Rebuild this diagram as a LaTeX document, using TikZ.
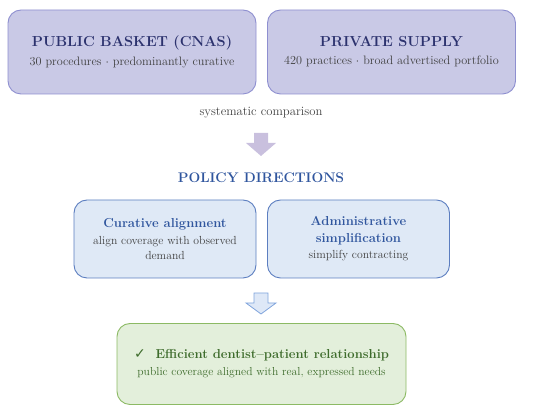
\documentclass[tikz,border=0pt]{standalone}
\usepackage{fontspec}
\newfontfamily\symbfont{DejaVu Sans}
\newlength{\du}
\setlength{\du}{1pt}
\definecolor{basketfill}{RGB}{201,201,230}
\definecolor{basketline}{RGB}{142,143,208}
\definecolor{baskettext}{RGB}{44,50,110}
\definecolor{policyfill}{RGB}{223,233,246}
\definecolor{policyline}{RGB}{92,126,192}
\definecolor{policytext}{RGB}{48,86,158}
\definecolor{goalfill}{RGB}{227,239,219}
\definecolor{goalline}{RGB}{140,186,100}
\definecolor{goaltext}{RGB}{62,108,44}
\definecolor{subtext}{RGB}{64,64,64}
\definecolor{arrowfill}{RGB}{201,192,222}
\definecolor{arrowtwofill}{RGB}{222,232,247}
\definecolor{arrowtwoline}{RGB}{128,164,220}

\begin{document}
\begin{tikzpicture}[
  basket/.style={draw=basketline, fill=basketfill, line width=0.9\du, rounded corners=13\du,
    minimum width=248\du, minimum height=84\du, align=center, inner sep=0pt},
  policy/.style={draw=policyline, fill=policyfill, line width=0.9\du, rounded corners=13\du,
    minimum width=182\du, minimum height=78\du, align=center, inner sep=0pt},
  goal/.style={draw=goalline, fill=goalfill, line width=0.9\du, rounded corners=13\du,
    minimum width=289\du, minimum height=81\du, align=center, inner sep=0pt}
]
\pgftransformxscale{1.000000}
\pgftransformyscale{-1.000000}
\useasboundingbox (0\du,0\du) rectangle (550\du,411\du);
% top row
\node[basket] (public) at (132\du,52\du){%
  \fontsize{14.5}{17}\selectfont\bfseries\color{baskettext}PUBLIC BASKET (CNAS)\\[6\du]
  \fontsize{12.2}{14}\selectfont\mdseries\color{subtext}30 procedures $\cdot$ predominantly curative};
\node[basket] (private) at (391.5\du,52\du){%
  \fontsize{14.5}{17}\selectfont\bfseries\color{baskettext}PRIVATE SUPPLY\\[6\du]
  \fontsize{12.2}{14}\selectfont\mdseries\color{subtext}420 practices $\cdot$ broad advertised portfolio};
% setfont left to latex
\node[text=subtext, font=\fontsize{12.7}{14}\selectfont] (compare) at (261\du,113\du){systematic comparison};
% first arrow
\fill[arrowfill] (254\du,133\du)--(268\du,133\du)--(268\du,143\du)--(276\du,143\du)--(261\du,156\du)
  --(246\du,143\du)--(254\du,143\du)--cycle;
\node[text=policytext, font=\fontsize{13.9}{16}\selectfont\bfseries] (directions) at (261\du,178\du){POLICY DIRECTIONS};
% middle row
\node[policy] (curative) at (165\du,239\du){%
  \fontsize{13}{15}\selectfont\bfseries\color{policytext}Curative alignment\\[5\du]
  \fontsize{11.7}{15}\selectfont\mdseries\color{subtext}align coverage with observed\\[3\du]
  \fontsize{11.7}{15}\selectfont\mdseries\color{subtext}demand};
\node[policy] (admin) at (358.5\du,239\du){%
  \fontsize{13}{18}\selectfont\bfseries\color{policytext}Administrative\\[5\du]
  \fontsize{13}{18}\selectfont\bfseries\color{policytext}simplification\\[4\du]
  \fontsize{11.7}{14}\selectfont\mdseries\color{subtext}simplify contracting};
% second arrow
\filldraw[fill=arrowtwofill, draw=arrowtwoline, line width=0.8\du, line join=miter]
  (254\du,293\du)--(268\du,293\du)--(268\du,303\du)--(276\du,303\du)--(261\du,314\du)
  --(246\du,303\du)--(254\du,303\du)--cycle;
% bottom
\node[goal] (relation) at (261.5\du,364\du){%
  \fontsize{13}{15}\selectfont\bfseries\color{goaltext}{\symbfont\mdseries\fontsize{14}{15}\selectfont ✓}\ \ Efficient dentist--patient relationship\\[5\du]
  \fontsize{11.6}{14}\selectfont\mdseries\color{goaltext}public coverage aligned with real, expressed needs};
\end{tikzpicture}
\end{document}
